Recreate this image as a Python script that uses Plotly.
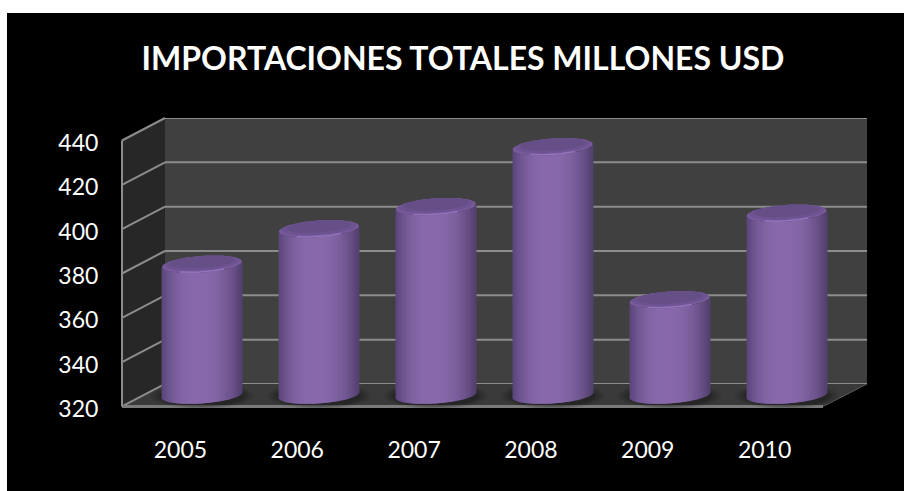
import numpy as np
import plotly.graph_objects as go

# Chart data
years = ["2005", "2006", "2007", "2008", "2009", "2010"]
importaciones = [379, 395, 405, 432, 363, 402]
y_ticks = [320, 340, 360, 380, 400, 420, 440]
title_text = "IMPORTACIONES TOTALES MILLONES USD"

W, H = 904, 491
Y_MIN, Y_MAX = 320, 440
Y_BELOW = 20                  # extra room under the cylinder plane for the elliptical bases
UNIT_PX = 44.33 / 20          # pixels per data unit on the value axes
CAT_PX = 116.85               # pixels per category

HALF_W = 40 / CAT_PX          # cylinder half width, category units
ELL_A = 8.4 / UNIT_PX         # ellipse half height, value units
ELL_B = 2.8 / UNIT_PX         # ellipse tilt, value units
STRIPS = 80
GRID = "#8c8c8c"


def fx(px):
    return px / W


def fy(px):
    return 1 - px / H


def poly(points, fill=None, line=None, width=0):
    path = "M " + " L ".join(f"{fx(a):.5f} {fy(b):.5f}" for a, b in points)
    if fill:
        path += " Z"
    return dict(type="path", path=path, xref="paper", yref="paper", layer="below",
                fillcolor=fill or "rgba(0,0,0,0)",
                line=dict(color=line or "rgba(0,0,0,0)", width=width))


def side_y(px_top, value):
    return px_top + (Y_MAX - value) * UNIT_PX


def shade(t):
    """Cylinder body colour across its width, t from -1 to 1."""
    dark_l = np.array([88, 69, 120])
    light = np.array([136, 105, 171])
    dark_r = np.array([82, 64, 110])
    u = (t + 0.1) / 1.1 if t > -0.1 else (t + 0.1) / 0.9
    u = min(abs(u), 1)
    end = dark_r if t > -0.1 else dark_l
    mix = u ** 2.4
    c = light * (1 - mix) + end * mix
    return f"rgb({c[0]:.0f},{c[1]:.0f},{c[2]:.0f})"


shapes = [
    # black panel
    dict(type="rect", xref="paper", yref="paper", layer="below",
         x0=fx(7), x1=1, y0=0, y1=fy(13), fillcolor="#000000", line_width=0),
    # back wall, side wall, floor
    poly([(165, 118), (867, 118), (867, 384), (165, 384)], fill="#404040"),
    poly([(122, 140.5), (165, 118), (165, 384), (122, 406.5)], fill="#272727"),
    poly([(122, 406.5), (165, 384), (867, 384), (823, 406.5)], fill="#3a3a3a"),
    poly([(823, 406.5), (867, 384)], line="#5a5a5a", width=1),
]

for v in y_ticks:
    # grid line over the side wall
    shapes.append(poly([(122, side_y(140.5, v)), (165, side_y(118, v))], line=GRID, width=2))
    # grid line over the back wall
    shapes.append(dict(type="line", xref="x domain", yref="y", layer="below",
                       x0=0, x1=1, y0=v, y1=v, line=dict(color=GRID, width=2)))

# soft floor shadows around each cylinder base
for i in range(len(years)):
    for grow, alpha in [(1.30, 0.08), (1.22, 0.10), (1.14, 0.12), (1.07, 0.16)]:
        shapes.append(dict(type="circle", xref="x2", yref="y2", layer="below",
                           x0=i - HALF_W * grow, x1=i + HALF_W * grow,
                           y0=Y_MIN - ELL_A * 1.25 * grow, y1=Y_MIN + ELL_A * 1.1 * grow,
                           fillcolor=f"rgba(10,10,10,{alpha})", line_width=0))

# front and left edges sit on top of the shadows
shapes += [
    poly([(122, 406.5), (823, 406.5)], line="#7a7a7a", width=3),
    poly([(122, 140.5), (122, 406.5)], line=GRID, width=2),
]

fig = go.Figure()

# empty trace keeping the back-wall axes alive
fig.add_trace(go.Scatter(x=[0], y=[Y_MIN], xaxis="x", yaxis="y", mode="markers",
                         marker=dict(opacity=0), hoverinfo="skip", showlegend=False))

# cylinder bodies: one thin bar per vertical strip, each following the elliptical base
strip_t = (np.arange(STRIPS) + 0.5) / STRIPS * 2 - 1
strip_w = 2 * HALF_W / STRIPS
xs, bases, heights, colours = [], [], [], []
for i, value in enumerate(importaciones):
    for t in strip_t:
        drop = ELL_B * t - ELL_A * np.sqrt(1 - t ** 2)
        xs.append(i + t * HALF_W)
        bases.append(Y_MIN + drop)
        heights.append(value - Y_MIN)
        colours.append(shade(t))
fig.add_trace(go.Bar(x=xs, y=heights, base=bases, width=strip_w * 1.02,
                     marker=dict(color=colours, line_width=0),
                     xaxis="x2", yaxis="y2", hoverinfo="skip", showlegend=False))

# cylinder lids
theta = np.linspace(0, 2 * np.pi, 91)
front = np.linspace(-1, 1, 61)


def lid(scale_x, scale_y, shift):
    px, py = [], []
    for i, value in enumerate(importaciones):
        px += list(i + scale_x * HALF_W * np.cos(theta)) + [None]
        py += list(value + shift + scale_y * (ELL_A * np.sin(theta) + ELL_B * np.cos(theta))) + [None]
    return px, py


def add_fill(px, py, colour):
    fig.add_trace(go.Scatter(x=px, y=py, mode="lines", fill="toself", fillcolor=colour,
                             line=dict(width=0), xaxis="x2", yaxis="y2",
                             hoverinfo="skip", showlegend=False))


add_fill(*lid(1.0, 1.0, 0), "#77599c")
add_fill(*lid(0.94, 0.86, 0.5), "#6e5392")
add_fill(*lid(0.82, 0.72, 1.0), "#664f86")

# bright rim along the front of each lid
rim_x, rim_y = [], []
for i, value in enumerate(importaciones):
    t = front * 0.55
    rim_x += list(i + t * HALF_W) + [None]
    rim_y += list(value + ELL_B * t - ELL_A * np.sqrt(1 - t ** 2) + 0.3) + [None]
fig.add_trace(go.Scatter(x=rim_x, y=rim_y, mode="lines", line=dict(color="#9274bd", width=1.5),
                         xaxis="x2", yaxis="y2", hoverinfo="skip", showlegend=False))

# front-plane axes only carry the labels
fig.add_trace(go.Scatter(x=[0], y=[Y_MIN], xaxis="x3", yaxis="y3", mode="markers",
                         marker=dict(opacity=0), hoverinfo="skip", showlegend=False))

tick_font = dict(family="Lato, Carlito, Calibri, sans-serif", size=23, color="#ffffff")
x_range = [-0.5, 5.5]
hidden = dict(visible=False, range=x_range, fixedrange=True)

fig.update_layout(
    width=W, height=H,
    margin=dict(l=0, r=0, t=0, b=0, autoexpand=False),
    paper_bgcolor="#ffffff",
    plot_bgcolor="rgba(0,0,0,0)",
    barmode="overlay",
    showlegend=False,
    shapes=shapes,
    title=dict(text=f"<b>{title_text}</b>", x=463 / W, xanchor="center",
               y=fy(59), yanchor="middle",
               font=dict(family="Lato, Carlito, Calibri, sans-serif", size=32, color="#ffffff")),
    # back wall
    xaxis=dict(domain=[fx(165), fx(867)], anchor="y", **hidden),
    yaxis=dict(domain=[fy(384), fy(118)], anchor="x", range=[Y_MIN, Y_MAX],
               visible=False, fixedrange=True),
    # plane through the cylinders' axes, extended downward so the rounded bases stay visible
    xaxis2=dict(domain=[fx(143.5), fx(845)], anchor="y2", **hidden),
    yaxis2=dict(domain=[fy(395 + Y_BELOW * UNIT_PX), fy(129)], anchor="x2",
                range=[Y_MIN - Y_BELOW, Y_MAX], visible=False, fixedrange=True),
    # front plane, labelled
    xaxis3=dict(domain=[fx(122), fx(823)], anchor="y3", range=x_range, tickmode="array",
                tickvals=list(range(len(years))), ticktext=years, tickfont=tick_font,
                showgrid=False, zeroline=False, showline=False, ticks="outside", ticklen=20,
                tickcolor="rgba(0,0,0,0)", fixedrange=True),
    yaxis3=dict(domain=[fy(409), fy(143)], anchor="x3", range=[Y_MIN, Y_MAX], tickvals=y_ticks,
                tickfont=tick_font, showgrid=False, zeroline=False, showline=False,
                ticks="outside", ticklen=18, tickcolor="rgba(0,0,0,0)", fixedrange=True),
)

fig.write_html("out.html", config=dict(displayModeBar=False))
